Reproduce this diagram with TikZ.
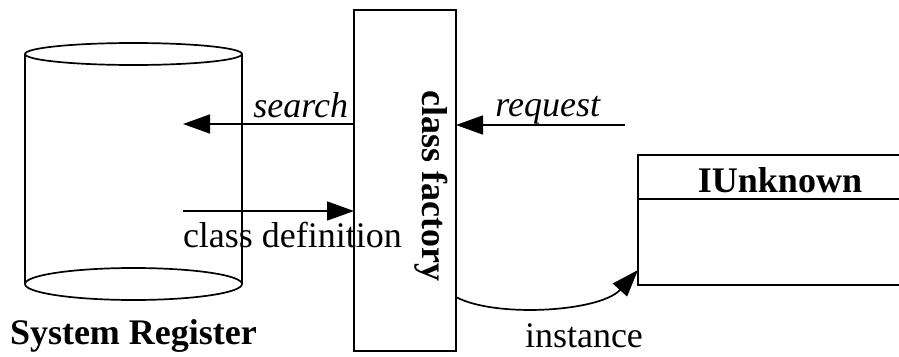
\documentclass[tikz,border=0pt]{standalone}
\usepackage{fontspec}
\setmainfont{Liberation Serif}
\usetikzlibrary{arrows.meta,calc}
\begin{document}
\begin{tikzpicture}[x=1pt,y=-1pt,
  line width=1.7pt,
  every node/.style={inner sep=0pt,outer sep=0pt},
  lbl/.style={font=\fontsize{36}{40}\selectfont},
  ilbl/.style={font=\fontsize{36}{40}\selectfont\itshape},
  blbl/.style={font=\fontsize{36}{40}\selectfont\bfseries},
  flow/.style={-{Triangle[length=27pt,width=19pt]}}]
\useasboundingbox (0,0) rectangle (899,356);

% registry drawn as a cylinder
\draw (133.5,54) ellipse [x radius=108.5, y radius=11];
\draw (133.5,284) ellipse [x radius=108.5, y radius=16];
\draw (25,54) -- (25,284);
\draw (242,54) -- (242,284);
\coordinate (regsearch) at (183,124);
\coordinate (regdef) at (183,211);
\node[blbl,anchor=base west] (reglabel) at (10,344) {System Register};

% class factory
\node[draw,minimum width=102,minimum height=341,anchor=north west] (cf) at (354,10) {};
\node[blbl,rotate=-90,anchor=base] (cflabel) at (422,186) {class factory};

% IUnknown interface box, running off the right edge
\node[minimum width=272,minimum height=130,anchor=north west] (iu) at (638,155) {};
\draw (iu.north east) -- (iu.north west) -- (iu.south west) -- (iu.south east);
\draw ($(iu.north west)+(0,44)$) -- ($(iu.north east)+(0,44)$);
\node[blbl,anchor=base] (iulabel) at (780,192) {IUnknown};

% search / class definition
\draw[flow] (cf.west |- regsearch) -- (regsearch);
\node[ilbl,anchor=base east] (searchlbl) at (348,117) {search};
\draw[flow] (regdef) -- (cf.west |- regdef);
\node[lbl,anchor=base west] (deflbl) at (183,247) {class definition};

% request
\coordinate (reqstart) at (625,125);
\draw[flow] (reqstart) -- (cf.east |- reqstart);
\node[ilbl,anchor=base east] (reqlbl) at (600,116) {request};

% instance
\coordinate (inststart) at (cf.east |- 0,297);
\coordinate (instend) at (iu.west |- 0,270);
\draw[flow] (inststart) .. controls (495,318) and (600,312) .. (instend);
\node[lbl,anchor=base west] (instlbl) at (525,347) {instance};
\end{tikzpicture}
\end{document}
